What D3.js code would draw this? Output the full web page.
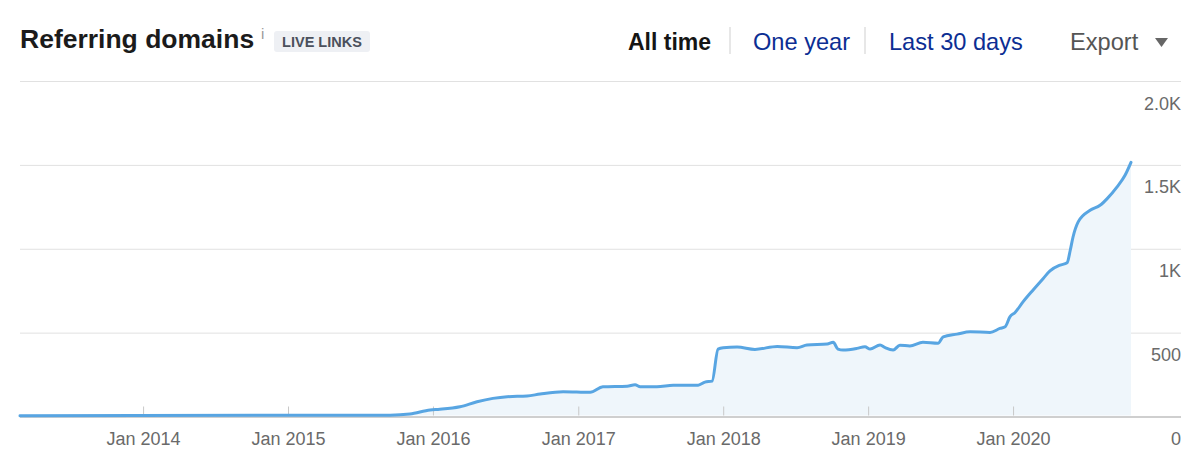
<!DOCTYPE html>
<html>
<head>
<meta charset="utf-8">
<script src="https://cdn.jsdelivr.net/npm/d3@7"></script>
<style>
  html, body { margin: 0; padding: 0; background: #fff; }
  svg { display: block; font-family: "Liberation Sans", Arial, Helvetica, sans-serif; }
</style>
</head>
<body>
<svg id="chart" width="1200" height="472"></svg>
<script>
// ---- data ----
const dates = [
  "2013-02-25","2015-09-15","2015-11-04","2015-12-25","2016-01-18","2016-03-09","2016-04-21",
  "2016-05-31","2016-07-06","2016-08-25","2016-09-27","2016-11-24","2017-01-31","2017-03-04",
  "2017-05-04","2017-05-24","2017-06-06","2017-07-18","2017-08-28","2017-10-30","2017-11-16",
  "2017-12-04","2017-12-19","2018-01-01","2018-02-05","2018-03-22","2018-05-17","2018-07-06",
  "2018-07-31","2018-09-20","2018-10-05","2018-10-17","2018-10-30","2018-12-04","2018-12-24",
  "2019-01-06","2019-01-31","2019-02-13","2019-03-05","2019-03-22","2019-04-16","2019-05-19",
  "2019-06-26","2019-07-09","2019-08-13","2019-09-15","2019-11-04","2019-11-29","2019-12-12",
  "2019-12-24","2020-01-06","2020-01-26","2020-02-20","2020-03-17","2020-04-03","2020-04-28",
  "2020-05-16","2020-05-24","2020-05-31","2020-06-13","2020-07-13","2020-08-07","2020-08-25",
  "2020-09-19","2020-10-09","2020-10-24"
];
const domains = [
  5,8,15,39,43,58,88,
  108,118,122,134,148,144,177,
  181,189,177,177,186,187,205,
  211,402,410,414,400,418,410,
  426,432,442,402,396,406,416,
  402,426,410,396,425,421,442,
  436,475,491,505,501,525,535,
  594,620,683,753,823,868,902,
  916,991,1070,1160,1229,1259,1299,
  1369,1438,1515
];
const xTickDates = ["2014-01-01","2015-01-01","2016-01-01","2017-01-01","2018-01-01","2019-01-01","2020-01-01"];
const xTickLabels = ["Jan 2014","Jan 2015","Jan 2016","Jan 2017","Jan 2018","Jan 2019","Jan 2020"];
const yTickValues = [0, 500, 1000, 1500, 2000];
const yTickLabels = ["0", "500", "1K", "1.5K", "2.0K"];
const navItems = ["All time", "One year", "Last 30 days"];

// ---- setup ----
const parse = d3.utcParse("%Y-%m-%d");
const data = dates.map((d, i) => ({ date: parse(d), value: domains[i] }));

const svg = d3.select("#chart");
const left = 20, plotRight = 1131, gridRight = 1181;
const yBottom = 416.5, yTop = 81;

const x = d3.scaleUtc()
  .domain([parse("2013-02-25"), parse("2020-10-24")])
  .range([left, plotRight]);
const y = d3.scaleLinear().domain([0, 2000]).range([yBottom, yTop]);

// ---- header ----
svg.append("text").attr("x", 20).attr("y", 47.5)
  .attr("font-size", 26.5).attr("font-weight", "bold").attr("fill", "#1b1b1b")
  .text("Referring domains");
svg.append("text").attr("x", 261).attr("y", 39)
  .attr("font-size", 15).attr("fill", "#9a9a9a").text("i");
svg.append("rect").attr("x", 274).attr("y", 31).attr("width", 96).attr("height", 21)
  .attr("rx", 3).attr("fill", "#eef0f4");
svg.append("text").attr("x", 322).attr("y", 47).attr("text-anchor", "middle")
  .attr("font-size", 14.5).attr("font-weight", "bold").attr("fill", "#4b505c")
  .text("LIVE LINKS");

const navX = [628, 753, 889];
navItems.forEach((t, i) => {
  svg.append("text").attr("x", navX[i]).attr("y", 50)
    .attr("font-size", i === 0 ? 23 : 23.6)
    .attr("font-weight", i === 0 ? "bold" : "normal")
    .attr("fill", i === 0 ? "#151515" : "#0c2e93")
    .text(t);
});
[730, 865].forEach(sx => {
  svg.append("line").attr("x1", sx).attr("x2", sx).attr("y1", 27).attr("y2", 54)
    .attr("stroke", "#cfcfcf").attr("stroke-width", 1);
});
svg.append("text").attr("x", 1070).attr("y", 50)
  .attr("font-size", 23.6).attr("fill", "#555").text("Export");
svg.append("path").attr("d", "M1155,38 L1168,38 L1161.5,47 Z").attr("fill", "#666");

// ---- grid ----
const yAxis = d3.axisRight(y).tickValues(yTickValues)
  .tickSize(0).tickFormat((d, i) => yTickLabels[i]);
const gy = svg.append("g").attr("transform", `translate(${gridRight},0)`).call(yAxis);
gy.select(".domain").remove();
gy.selectAll(".tick line").remove();
gy.selectAll(".tick").append("line")
  .attr("x1", left - gridRight).attr("x2", 0)
  .attr("stroke", d => d === 0 ? "#cfcfcf" : "#e1e1e1")
  .attr("stroke-width", d => d === 0 ? 2 : 1);
gy.selectAll(".tick text")
  .attr("x", 0).attr("dy", 28).attr("y", 0)
  .attr("text-anchor", "end").attr("font-size", 18).attr("fill", "#6a6a6a")
  .attr("font-family", "Liberation Sans, Arial, sans-serif");

// ---- area + line ----
const area = d3.area().x(d => x(d.date)).y0(yBottom - 1).y1(d => y(d.value))
  .curve(d3.curveMonotoneX);
svg.append("path").datum(data).attr("d", area).attr("fill", "#eff6fb");

// ---- x axis ----
const xAxis = d3.axisBottom(x).tickValues(xTickDates.map(parse))
  .tickSize(0).tickFormat((d, i) => xTickLabels[i]);
const gx = svg.append("g").attr("transform", `translate(0,${yBottom})`).call(xAxis);
gx.select(".domain").remove();
gx.selectAll(".tick line").remove();
gx.selectAll(".tick").append("line").attr("y1", -10).attr("y2", -1)
  .attr("stroke", "#c8c8c8").attr("stroke-width", 1);
gx.selectAll(".tick text").attr("y", 0).attr("dy", 28)
  .attr("font-size", 18).attr("fill", "#6a6a6a")
  .attr("font-family", "Liberation Sans, Arial, sans-serif");

const line = d3.line().x(d => x(d.date)).y(d => y(d.value)).curve(d3.curveMonotoneX);
svg.append("path").datum(data).attr("d", line)
  .attr("fill", "none").attr("stroke", "#58a5e2").attr("stroke-width", 3)
  .attr("stroke-linejoin", "round").attr("stroke-linecap", "round");
</script>
</body>
</html>
